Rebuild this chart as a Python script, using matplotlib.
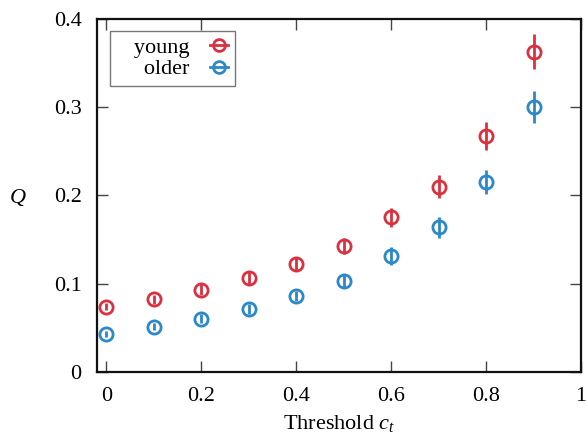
import numpy as np
import matplotlib
matplotlib.use('Agg')
import matplotlib.pyplot as plt
from matplotlib.lines import Line2D

plt.rcParams['font.family'] = ['Liberation Serif', 'DejaVu Serif']
plt.rcParams['mathtext.fontset'] = 'custom'
plt.rcParams['mathtext.rm'] = 'Liberation Serif'
plt.rcParams['mathtext.it'] = 'Liberation Serif:italic'

threshold = [0.0, 0.1, 0.2, 0.3, 0.4, 0.5, 0.6, 0.7, 0.8, 0.9]
young = [0.074, 0.082, 0.093, 0.106, 0.122, 0.143, 0.175, 0.210, 0.267, 0.363]
young_err = [0.004, 0.005, 0.006, 0.007, 0.008, 0.009, 0.011, 0.013, 0.016, 0.020]
older = [0.043, 0.051, 0.060, 0.071, 0.086, 0.103, 0.131, 0.164, 0.215, 0.300]
older_err = [0.003, 0.004, 0.005, 0.006, 0.006, 0.008, 0.010, 0.012, 0.014, 0.018]

red = '#d9313f'
blue = '#2c88c9'

fig, ax = plt.subplots(figsize=(5.87, 4.40), dpi=100)
fig.subplots_adjust(left=0.165, right=0.990, top=0.957, bottom=0.155)

ax.errorbar(threshold, young, yerr=young_err, fmt='o', mfc='none', mec=red,
            ecolor=red, ms=9.5, mew=2, elinewidth=2, capsize=0)
ax.errorbar(threshold, older, yerr=older_err, fmt='o', mfc='none', mec=blue,
            ecolor=blue, ms=9.5, mew=2, elinewidth=2, capsize=0)

ax.set_xlim(-0.02, 1)
ax.set_ylim(0, 0.4)
ax.set_xticks([0, 0.2, 0.4, 0.6, 0.8, 1])
ax.set_xticklabels(['0', '0.2', '0.4', '0.6', '0.8', '1'])
ax.set_yticks([0, 0.1, 0.2, 0.3, 0.4])
ax.set_yticklabels(['0', '0.1', '0.2', '0.3', '0.4'])
ax.tick_params(direction='in', top=True, right=True, length=8, width=1,
               labelsize=16, color='#444444', pad=11)
for s in ax.spines.values():
    s.set_linewidth(1.6)
    s.set_color('#111111')

ax.set_xlabel('Threshold $c_t$', fontsize=16, labelpad=5)
ax.set_ylabel('$Q$', fontsize=16, rotation=0, va='center', ha='center')
ax.yaxis.set_label_coords(-0.163, 0.495)

handles = [Line2D([], [], color=red, marker='o', mfc='none', ms=8.5, mew=2, lw=2),
           Line2D([], [], color=blue, marker='o', mfc='none', ms=8.5, mew=2, lw=2)]
leg = ax.legend(handles, ['   young', '   older'], loc='upper left',
                bbox_to_anchor=(0.028, 0.967), markerfirst=False,
                fontsize=16, frameon=True, fancybox=False, handlelength=0.85,
                handletextpad=0.9, borderpad=0.3, labelspacing=0.05,
                borderaxespad=0, alignment='right')
leg.get_frame().set_edgecolor('#555555')
leg.get_frame().set_linewidth(1.0)
for t in leg.get_texts():
    t.set_ha('right')

fig.savefig('out.png', dpi=100)
